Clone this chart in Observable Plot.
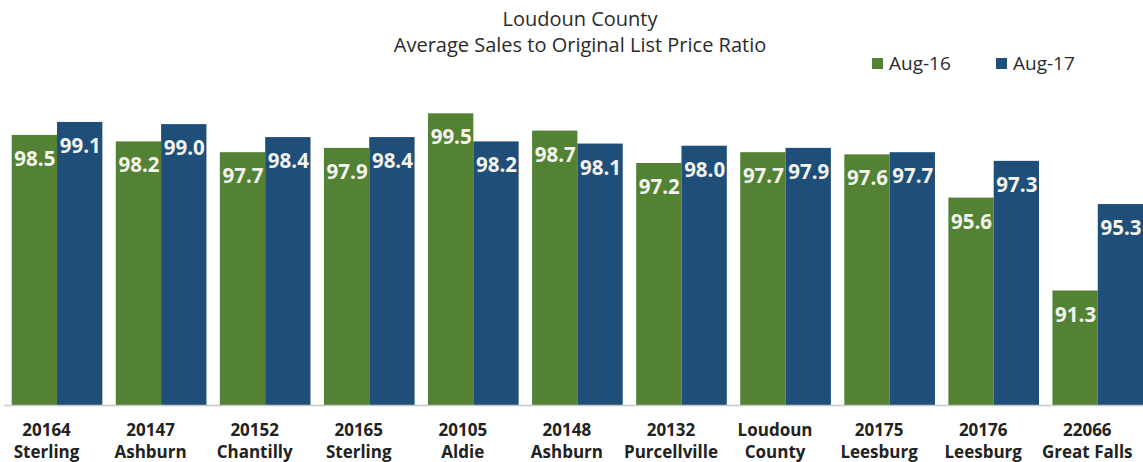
<!DOCTYPE html>
<html>
<head>
<meta charset="utf-8">
<script src="https://cdn.jsdelivr.net/npm/d3@7"></script>
<script src="https://cdn.jsdelivr.net/npm/@observablehq/plot@0.6"></script>
<style>
  html, body { margin: 0; padding: 0; background: #fff; }
  #wrap { position: relative; width: 1143px; height: 462px; overflow: hidden; font-family: "Open Sans", sans-serif; color: #2b2b2b; }
  #title { position: absolute; left: 0; top: 6px; width: 1160px; text-align: center; font-size: 20px; line-height: 26px; }
  .leg { position: absolute; top: 50px; font-size: 19px; line-height: 26px; display: flex; align-items: center; }
  .sw { display: inline-block; width: 11px; height: 11px; margin-right: 6px; }
  #chart { position: absolute; left: 0; top: 0; }
</style>
</head>
<body>
<div id="wrap">
  <div id="chart"></div>
  <div id="title">Loudoun County<br>Average Sales to Original List Price Ratio</div>
  <div id="legend"></div>
</div>
<script>
const zips = ["20164","20147","20152","20165","20105","20148","20132","Loudoun","20175","20176","22066"];
const places = ["Sterling","Ashburn","Chantilly","Sterling","Aldie","Ashburn","Purcellville","County","Leesburg","Leesburg","Great Falls"];
const aug16 = [98.5,98.2,97.7,97.9,99.5,98.7,97.2,97.7,97.6,95.6,91.3];
const aug17 = [99.1,99.0,98.4,98.4,98.2,98.1,98.0,97.9,97.7,97.3,95.3];
const seriesNames = ["Aug-16","Aug-17"];
const colors = ["#548235","#1f4e79"];
const BASE = 86;

const data = zips.map((z, i) => ({key: z + "\n" + places[i], aug16: aug16[i], aug17: aug17[i]}));

const x0 = 11.7, x1 = 1143.1, padIn = 0.129;
const step = (x1 - x0) / (zips.length - padIn);
const bw = step * (1 - padIn);
const half = bw / 2;

const labelStyle = {fontSize: 20.5, fontWeight: "bold", fill: "#f4f4ee", dy: 24};

const chart = Plot.plot({
  width: 1143,
  height: 462,
  marginLeft: 4,
  marginRight: 0,
  marginTop: 102,
  marginBottom: 57,
  style: {fontFamily: "'Open Sans', sans-serif", background: "white"},
  x: {domain: data.map(d => d.key), range: [x0, x1], paddingInner: padIn, paddingOuter: 0, round: false, axis: null},
  y: {domain: [BASE, 100], range: [405, 102.5], axis: null},
  marks: [
    Plot.barY(data, {x: "key", y1: BASE, y2: "aug16", fill: colors[0], insetRight: half}),
    Plot.barY(data, {x: "key", y1: BASE, y2: "aug17", fill: colors[1], insetLeft: half}),
    Plot.text(data, {x: "key", y: "aug16", text: d => d.aug16.toFixed(1), dx: -half / 2, ...labelStyle}),
    Plot.text(data, {x: "key", y: "aug17", text: d => d.aug17.toFixed(1), dx: half / 2, ...labelStyle}),
    Plot.ruleY([BASE], {stroke: "#c8c8c8", strokeWidth: 1.5}),
    Plot.axisX({tickSize: 0, tickPadding: 14, dx: -11, fontSize: 17, fontWeight: "bold", fill: "#222", lineHeight: 1.33, label: null})
  ]
});
document.getElementById("chart").appendChild(chart);

const legend = document.getElementById("legend");
const legLeft = [872, 996];
seriesNames.forEach((name, i) => {
  const el = document.createElement("div");
  el.className = "leg";
  el.style.left = legLeft[i] + "px";
  el.innerHTML = `<span class="sw" style="background:${colors[i]}"></span><span>${name}</span>`;
  legend.appendChild(el);
});
</script>
</body>
</html>
